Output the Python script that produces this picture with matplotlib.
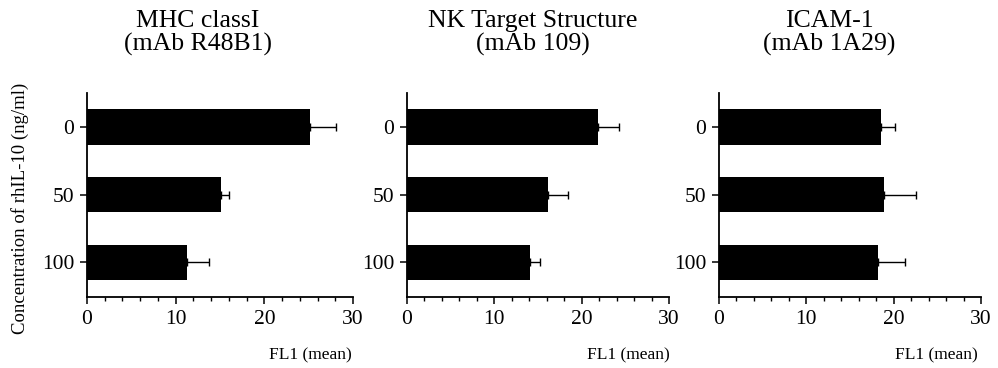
import matplotlib
matplotlib.use("Agg")
import matplotlib.pyplot as plt
from matplotlib.ticker import MultipleLocator

plt.rcParams['font.family'] = ['Liberation Serif', 'DejaVu Serif']

categories = ["0", "50", "100"]
titles = [("MHC classI", "(mAb R48B1)"),
          ("NK Target Structure", "(mAb 109)"),
          ("ICAM-1", "(mAb 1A29)")]
means = [
    [25.2, 15.1, 11.3],
    [21.9, 16.2, 14.1],
    [18.6, 18.9, 18.2],
]
errors = [
    [2.9, 0.9, 2.5],
    [2.4, 2.2, 1.1],
    [1.6, 3.7, 3.1],
]
xticks = [0, 10, 20, 30]
xlabel = "FL1 (mean)"
ylabel = "Concentration of rhIL-10 (ng/ml)"

W, H = 998, 368
fig = plt.figure(figsize=(W / 100, H / 100), dpi=100)

lefts = [87, 407, 719]
rights = [353, 669, 981]
top, bottom = 93, 297
title_x = [198, 533, 829]
xlabel_right = [352, 670, 978]

for i in range(3):
    ax = fig.add_axes([lefts[i] / W, 1 - bottom / H,
                       (rights[i] - lefts[i]) / W, (bottom - top) / H])
    ypos = list(range(len(categories)))
    ax.barh(ypos, means[i], height=0.52, color='black', zorder=2)
    ax.errorbar(means[i], ypos, xerr=[[0] * 3, errors[i]], fmt='none',
                ecolor='black', elinewidth=1.0, capsize=3, capthick=1.0, zorder=1)
    ax.set_xlim(0, 30)
    ax.set_ylim(2.51, -0.5)
    ax.set_yticks(ypos)
    ax.set_yticklabels(categories)
    ax.set_xticks(xticks)
    ax.xaxis.set_minor_locator(MultipleLocator(2))
    for s in ['top', 'right']:
        ax.spines[s].set_visible(False)
    for s in ['left', 'bottom']:
        ax.spines[s].set_linewidth(1.3)
    ax.tick_params(axis='both', which='major', labelsize=15.5, length=5,
                   width=1.1, direction='out', pad=4)
    ax.tick_params(axis='x', which='minor', length=3, width=1.0, direction='out')
    fig.text(title_x[i] / W, 1 - 27 / H, titles[i][0], ha='center',
             va='baseline', fontsize=18.5)
    fig.text(title_x[i] / W, 1 - 51 / H, titles[i][1], ha='center',
             va='baseline', fontsize=18.5)
    fig.text(xlabel_right[i] / W, 1 - 355 / H, xlabel, ha='right',
             va='center', fontsize=12.5)

fig.text(20 / W, 1 - 208 / H, ylabel, rotation=90, ha='center', va='center',
         fontsize=13.5)

fig.savefig("out.png", dpi=100)
